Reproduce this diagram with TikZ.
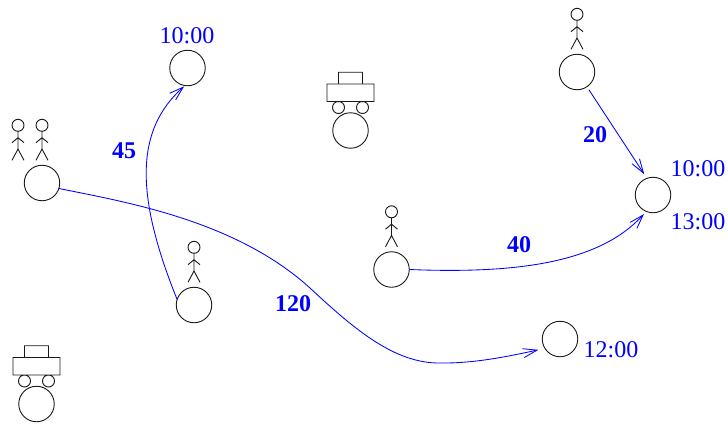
\documentclass[tikz,border=0pt]{standalone}
\usepackage{fontspec}
\setmainfont{Liberation Serif}
\usetikzlibrary{arrows.meta}
\definecolor{lblue}{RGB}{0,0,255}
\tikzset{
  x=1pt,y=-1pt,
  place/.style={circle,draw=black!90,line width=0.9pt,minimum size=35.5pt,inner sep=0pt,outer sep=0pt},
  link/.style={draw=lblue,line width=0.85pt,-{Straight Barb[length=14pt,width=9pt,line width=0.85pt]}},
  timetext/.style={text=lblue,font=\fontsize{24}{24}\selectfont,inner sep=0pt,anchor=center},
  weighttext/.style={text=lblue,font=\bfseries\fontsize{24}{24}\selectfont,inner sep=0pt,anchor=center},
  person/.pic={
    \draw[black!90,line width=0.9pt] (0,-57.7) circle[radius=6]
      (0,-51.7) -- (0,-34) (-6,-40.3) -- (0,-45.3) -- (6,-40.3) (-6,-22.7) -- (0,-34) -- (6,-22.7);
  },
  car/.pic={
    \draw[black!90,line width=0.9pt]
      (-12,-58.3) rectangle (12,-46.5)
      (-23.5,-46.5) rectangle (23.5,-29)
      (-12,-23) circle[radius=6] (12,-23) circle[radius=6];
  }
}
\begin{document}
\begin{tikzpicture}
\useasboundingbox (0,0) rectangle (728,423);
\node[place] (a) at (187.5,68) {};
\node[place] (b) at (350.5,130.5) {};
\node[place] (c) at (577,72) {};
\node[place] (d) at (42,183) {};
\node[place] (e) at (653,195) {};
\node[place] (f) at (391.5,269.5) {};
\node[place] (g) at (194,305) {};
\node[place] (h) at (560,339) {};
\node[place] (i) at (36.5,404) {};
\pic at (c) {person};
\pic at (f) {person};
\pic at (g) {person};
\pic at (d) {person};
\pic at ([xshift=-24pt]d.center) {person};
\pic at (b) {car};
\pic at (i) {car};
\draw[link,shorten >=1.2pt] (g.162) .. controls (135,195) and (135,130) .. (a.262);
\draw[link,shorten >=6.7pt] (d.-18) .. controls (125,202) and (235,220) .. (310,288) .. controls (355,330) and (395,363.5) .. (440,363) .. controls (475,363.5) and (510,356) .. (h.212);
\draw[link,shorten <=3.6pt,shorten >=5pt] (c.-56) -- (e.110);
\draw[link,shorten >=3.5pt] (f.0) .. controls (520,274) and (600,262) .. (e.248);
\node[timetext] (t1) at (187,36) {10:00};
\node[timetext] (t2) at (698,169) {10:00};
\node[timetext] (t3) at (698,222) {13:00};
\node[timetext] (t4) at (611,350) {12:00};
\node[weighttext] (w1) at (124,151) {45};
\node[weighttext] (w2) at (595,135) {20};
\node[weighttext] (w3) at (519,245) {40};
\node[weighttext] (w4) at (293,304) {120};
\end{tikzpicture}
\end{document}
